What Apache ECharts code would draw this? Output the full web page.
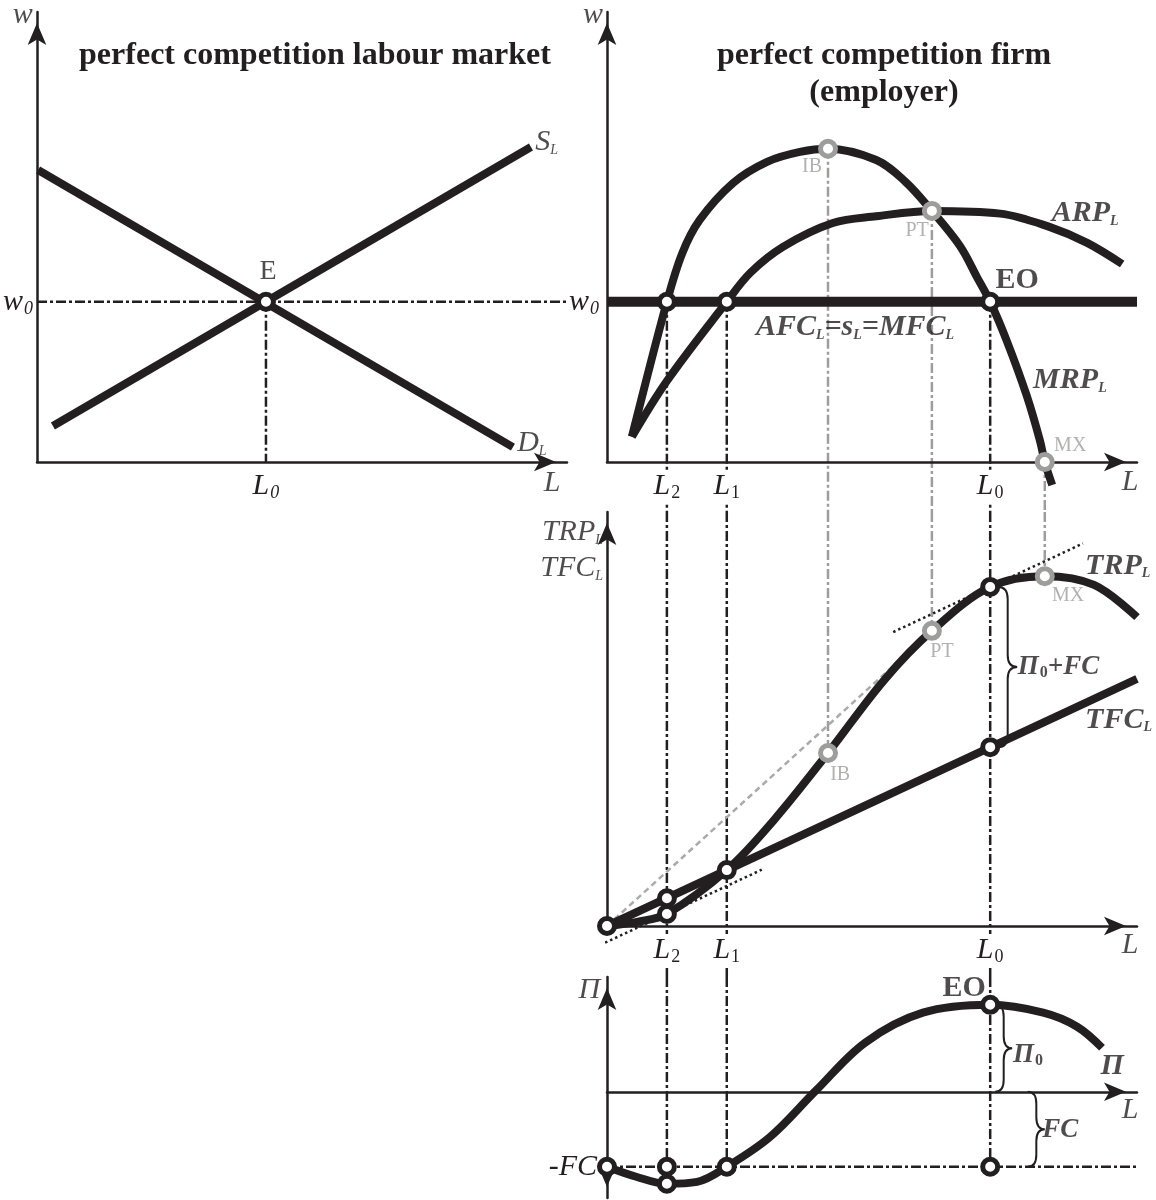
<!DOCTYPE html>
<html>
<head>
<meta charset="utf-8">
<script src="https://cdn.jsdelivr.net/npm/echarts@6/dist/echarts.min.js"></script>
<style>
  html, body { margin: 0; background: #fff; }
  #chart { width: 1156px; height: 1200px; }
</style>
</head>
<body>
<div id="chart"></div>
<script>
// labour quantities shared by the three firm panels (0..100 along L)
const L2 = 11.3, L1 = 22.6, IB = 41.7, PT = 61.3, L0 = 72.3, MX = 82.6;
const w0 = 35.6;   // market wage
const fc = 35.3;   // fixed cost (profit panel units)

// labour market
const demandL = [0.2, 89.8];
const demandW = [64.9, 3.3];
const supplyL = [3.0, 93.2];
const supplyW = [8.0, 70.0];
const eqL = 43.2;

// marginal / average revenue product
const mrpL = [4.7, L2, 14.2, 17.5, 23.8, 30.2, 36.4, IB, 50.8, 56.2, PT, 66.6, 69.8, L0, 75.5, 79.2, 81.7, MX, 84.0];
const mrpW = [5.6, w0, 46.4, 53.8, 62.0, 66.7, 68.9, 69.6, 67.1, 62.4, 55.8, 48.0, 41.1, w0, 26.7, 14.7, 4.7, 0, -5.1];
const arpL = [4.7, L2, L1, 27.0, 33.2, 42.6, 50.8, PT, 74.2, 83.6, 90.6, 97.2];
const arpW = [5.6, 18.0, w0, 42.0, 47.8, 53.1, 54.6, 55.8, 55.2, 52.2, 48.7, 44.0];

// total revenue product and total factor cost
const trpL = [0, 5.7, L2, L1, 31.5, IB, 52.3, PT, L0, MX, 91.9, 100];
const trpV = [0, 1.0, 2.9, 13.5, 25.6, 41.8, 59.4, 71.3, 81.9, 84.5, 82.4, 74.6];
const tfcL = [0, 100];
const tfcV = [0, 59.7];
const tfcAtL2 = 6.7, tfcAtL1 = 13.5, tfcAtL0 = 43.2;
const tangentLow = [[-6, -7.4], [29.2, 13.6]];
const tangentHigh = [[54, 71.0], [89.8, 92.4]];
const rayToPT = [[0, 0], [67, 77.9]];

// profit
const profL = [0, 5.5, L2, 17, L1, 30.8, 39.4, 48.7, 59.6, L0, 82.3, 88.7, 93.4];
const profV = [-35.3, -40, -43.3, -42.4, -35.3, -21.2, 0.5, 23.1, 37.2, 40.9, 37.2, 30.6, 20.7];
const profMinL2 = -43.3, profMax = 40.9;

const INK = '#231f20', GREY = '#9d9d9c';
const SERIF = '"Liberation Serif", "Times New Roman", serif';

const zip = (xs, ys) => xs.map((x, i) => [x, ys[i]]);

const f = (size, style, weight, color, pad) => ({
  fontFamily: SERIF, fontSize: size, fontStyle: style || 'normal',
  fontWeight: weight || 'normal', color: color || INK, padding: pad || 0
});
const rich = {
  i: f(30, 'italic'),
  r: f(28),
  s: f(18, null, null, null, [14, 0, 0, 1]),
  si: f(18, 'italic', null, null, [14, 0, 0, 1]),
  sl: f(14, 'italic', null, null, [16, 0, 0, 0]),
  b: f(30, null, 'bold'),
  bi: f(30, 'italic', 'bold'),
  bm: f(27, 'italic', 'bold'),
  bsl: f(14, 'italic', 'bold', null, [16, 0, 0, 0]),
  bs: f(16, null, 'bold', null, [12, 0, 0, 1]),
  g: f(20, null, null, GREY)
};

function curve(g, data, width, z) {
  return { type: 'line', xAxisIndex: g, yAxisIndex: g, data: data, smooth: 0.35,
    showSymbol: false, clip: false, silent: true, z: z || 3,
    lineStyle: { color: INK, width: width, cap: 'butt' } };
}
function guide(g, data, color) {
  return { type: 'line', xAxisIndex: g, yAxisIndex: g, data: data, showSymbol: false,
    clip: false, silent: true, z: 1,
    lineStyle: { color: color || INK, width: 2.5, type: [10, 3, 3, 3] } };
}
function dots(g, data, color) {
  return { type: 'scatter', xAxisIndex: g, yAxisIndex: g, data: data, symbolSize: 15,
    clip: false, silent: true, z: 10,
    itemStyle: { color: '#fff', borderColor: color || INK, borderWidth: 5, opacity: 1 } };
}
function texts(g, items) {
  return { type: 'scatter', xAxisIndex: g, yAxisIndex: g, symbolSize: 0, clip: false,
    silent: true, z: 12,
    itemStyle: { color: 'transparent' },
    label: { show: true, position: 'inside', formatter: p => p.name, rich: rich },
    data: items.map(t => ({ name: t[2], value: [t[0], t[1]],
      label: { align: t[3] || 'center', verticalAlign: 'middle' } })) };
}
function brace(g, x, y1, y2, dx, w) {
  return { type: 'custom', xAxisIndex: g, yAxisIndex: g, data: [[x, y1, y2]], silent: true, z: 5,
    renderItem: (params, api) => {
      const a = api.coord([api.value(0), api.value(1)]);
      const b = api.coord([api.value(0), api.value(2)]);
      const t = Math.min(a[1], b[1]), bt = Math.max(a[1], b[1]), m = (t + bt) / 2;
      const x0 = a[0] + dx, xs = x0 + w / 2, xt = x0 + w;
      const r = Math.min(12, (bt - t) / 4);
      const d = `M${x0},${t} Q${xs},${t} ${xs},${t + r} L${xs},${m - r} Q${xs},${m} ${xt},${m} ` +
                `Q${xs},${m} ${xs},${m + r} L${xs},${bt - r} Q${xs},${bt} ${x0},${bt}`;
      return { type: 'path', shape: { pathData: d },
        style: { fill: 'none', stroke: INK, lineWidth: 2 } };
    } };
}

const tickText = [
  [L2, '{i|L}{s|2}'], [L1, '{i|L}{s|1}'], [L0, '{i|L}{s|0}']
];
const fmt = list => v => { const hit = list.find(t => Math.abs(t[0] - v) < 1e-6); return hit ? hit[1] : ''; };

function xAxis(g, ticks, whiteBg) {
  return { type: 'value', gridIndex: g, min: 0, max: 100, z: 4,
    splitLine: { show: false }, axisTick: { show: false },
    axisLine: { onZero: true, lineStyle: { color: INK, width: 2.5 },
      symbol: ['none', 'arrow'], symbolSize: [14, 22], symbolOffset: [0, -11] },
    axisLabel: { show: ticks.length > 0, customValues: ticks.map(t => t[0]), formatter: fmt(ticks),
      rich: rich, margin: 8, backgroundColor: whiteBg ? '#fff' : 'transparent', padding: [0, 2] } };
}
function yAxis(g, min, max, ticks, both, margin) {
  return { type: 'value', gridIndex: g, min: min, max: max, z: 4,
    splitLine: { show: false }, axisTick: { show: false },
    axisLine: { onZero: true, lineStyle: { color: INK, width: 2.5 },
      symbol: both ? ['arrow', 'arrow'] : ['none', 'arrow'], symbolSize: [14, 22],
      symbolOffset: both ? [11, -11] : [0, -11] },
    axisLabel: { show: ticks.length > 0, customValues: ticks.map(t => t[0]), formatter: fmt(ticks),
      rich: rich, margin: margin || 8 } };
}

const chart = echarts.init(document.getElementById('chart'));

const option = {
  backgroundColor: '#fff',
  animation: false,
  grid: [
    { left: 37, top: 12, width: 530, height: 450, containLabel: false, outerBoundsMode: 'none' },
    { left: 607, top: 12, width: 530, height: 450, containLabel: false, outerBoundsMode: 'none' },
    { left: 607, top: 512, width: 530, height: 414, containLabel: false, outerBoundsMode: 'none' },
    { left: 607, top: 977, width: 530, height: 221, containLabel: false, outerBoundsMode: 'none' }
  ],
  xAxis: [
    xAxis(0, [[eqL, '{i|L}{si|0}']], false),
    xAxis(1, tickText, true),
    xAxis(2, tickText, true),
    xAxis(3, tickText, true)
  ],
  yAxis: [
    yAxis(0, 0, 100, [[w0, '{i|w}{si|0}']], false, 4),
    yAxis(1, 0, 100, [[w0, '{i|w}{si|0}']], false, 8),
    yAxis(2, 0, 100, [], false),
    yAxis(3, -50, 54, [[-fc, '{i|-FC}']], true, 10)
  ],
  graphic: [
    { type: 'text', x: 315, y: 56, silent: true,
      style: { text: 'perfect competition labour market', fontFamily: SERIF, fontWeight: 'bold',
        fontSize: 32, fill: INK, align: 'center', verticalAlign: 'middle' } },
    { type: 'text', x: 884, y: 74, silent: true,
      style: { text: 'perfect competition firm\n(employer)', fontFamily: SERIF, fontWeight: 'bold',
        fontSize: 32, lineHeight: 37, fill: INK, align: 'center', verticalAlign: 'middle' } }
  ],
  series: [
    // labour market
    guide(0, [[0, w0], [100, w0]]),
    guide(0, [[eqL, w0], [eqL, 0]]),
    curve(0, zip(demandL, demandW), 8),
    curve(0, zip(supplyL, supplyW), 8),
    dots(0, [[eqL, w0]]),
    texts(0, [
      [-0.8, 99.3, '{i|w}', 'right'],
      [97.2, -4.7, '{i|L}'],
      [94, 71.1, '{i|S}{sl|L}', 'left'],
      [90.6, 4.2, '{i|D}{sl|L}', 'left'],
      [43.6, 42.2, '{r|E}']
    ]),

    // firm: revenue products
    guide(1, [[L2, w0], [L2, -11.1]]),
    guide(1, [[L1, w0], [L1, -11.1]]),
    guide(1, [[L0, w0], [L0, -11.1]]),
    guide(1, [[IB, 69.6], [IB, -11.1]], GREY),
    guide(1, [[PT, 55.8], [PT, -11.1]], GREY),
    guide(1, [[MX, 0], [MX, -11.1]], GREY),
    curve(1, [[0, w0], [100, w0]], 10),
    curve(1, zip(arpL, arpW), 8),
    curve(1, zip(mrpL, mrpW), 8),
    dots(1, [[L2, w0], [L1, w0], [L0, w0]]),
    dots(1, [[IB, 69.6], [PT, 55.8], [MX, 0]], GREY),
    texts(1, [
      [-0.75, 99.3, '{i|w}', 'right'],
      [98.7, -4.4, '{i|L}'],
      [38.7, 65.6, '{g|IB}'],
      [58.5, 51.3, '{g|PT}'],
      [87.4, 3.6, '{g|MX}'],
      [77.4, 40.4, '{b|EO}'],
      [83.9, 55.3, '{bi|ARP}{bsl|L}', 'left'],
      [80.4, 18.2, '{bi|MRP}{bsl|L}', 'left'],
      [46.8, 30.0, '{bi|AFC}{bsl|L}{bi|=s}{bsl|L}{bi|=MFC}{bsl|L}']
    ]),

    // totals
    guide(2, [[L2, 100], [L2, -12.3]]),
    guide(2, [[L1, 100], [L1, -12.3]]),
    guide(2, [[L0, 100], [L0, -12.3]]),
    guide(2, [[IB, 100], [IB, 41.8]], GREY),
    guide(2, [[PT, 100], [PT, 71.3]], GREY),
    guide(2, [[MX, 100], [MX, 84.5]], GREY),
    { type: 'line', xAxisIndex: 2, yAxisIndex: 2, data: rayToPT, showSymbol: false, clip: false,
      silent: true, z: 2, lineStyle: { color: '#aaaaaa', width: 2.5, type: [6, 4] } },
    { type: 'line', xAxisIndex: 2, yAxisIndex: 2, data: tangentLow, showSymbol: false, clip: false,
      silent: true, z: 2, lineStyle: { color: INK, width: 2.5, type: [2.5, 3] } },
    { type: 'line', xAxisIndex: 2, yAxisIndex: 2, data: tangentHigh, showSymbol: false, clip: false,
      silent: true, z: 2, lineStyle: { color: INK, width: 2.5, type: [2.5, 3] } },
    curve(2, zip(tfcL, tfcV), 8),
    curve(2, zip(trpL, trpV), 8),
    brace(2, L0, 81.9, tfcAtL0, 8, 19),
    dots(2, [[0, 0], [L2, tfcAtL2], [L2, trpV[2]], [L1, tfcAtL1], [L0, 81.9], [L0, tfcAtL0]]),
    dots(2, [[IB, 41.8], [PT, 71.3], [MX, 84.5]], GREY),
    texts(2, [
      [-0.75, 95.2, '{i|TRP}{sl|L}', 'right'],
      [-0.75, 86.5, '{i|TFC}{sl|L}', 'right'],
      [98.7, -4.6, '{i|L}'],
      [90.2, 87.0, '{bi|TRP}{bsl|L}', 'left'],
      [90.2, 49.8, '{bi|TFC}{bsl|L}', 'left'],
      [77.5, 62.6, '{bm|Π}{bs|0}{bm|+FC}', 'left'],
      [44.0, 36.5, '{g|IB}'],
      [63.2, 66.2, '{g|PT}'],
      [87.0, 79.7, '{g|MX}']
    ]),

    // profit
    guide(3, [[L2, 54], [L2, -fc]]),
    guide(3, [[L1, 54], [L1, -fc]]),
    guide(3, [[L0, 54], [L0, -fc]]),
    guide(3, [[0, -fc], [100, -fc]]),
    curve(3, zip(profL, profV), 8),
    brace(3, L0, profMax, 0, 5, 17),
    brace(3, 79.4, 0, -fc, 0, 17),
    dots(3, [[0, -fc], [L2, -fc], [L2, profMinL2], [L1, -fc], [L0, profMax], [L0, -fc]]),
    texts(3, [
      [-1.3, 48, '{i|Π}', 'right'],
      [98.7, -8.5, '{i|L}'],
      [67.4, 48.9, '{b|EO}'],
      [95.3, 12.2, '{bi|Π}'],
      [76.6, 17.4, '{bm|Π}{bs|0}', 'left'],
      [82.1, -17.9, '{bm|FC}', 'left']
    ])
  ]
};

chart.setOption(option);
</script>
</body>
</html>
